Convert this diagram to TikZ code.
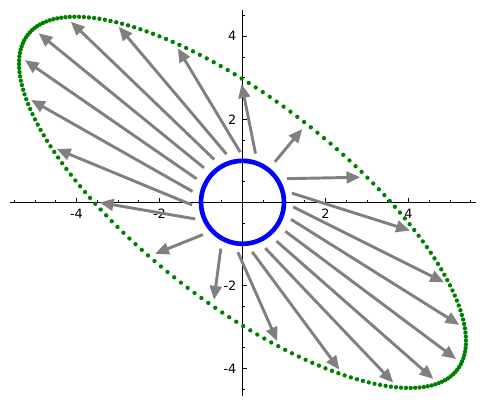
\documentclass[tikz,border=0pt]{standalone}
\usepackage{fontspec}
\setmainfont{DejaVu Sans}
\usetikzlibrary{arrows.meta}
\definecolor{cVec}{RGB}{128,128,128}
\definecolor{cImg}{RGB}{0,128,0}
\definecolor{cUnit}{RGB}{0,0,255}
\tikzset{
	axisline/.style={line width=0.6pt, black},
	tickline/.style={line width=0.5pt, black},
	ticklbl/.style ={inner sep=0pt, font=\fontsize{8.8}{10}\selectfont},
	vecarrow/.style={line width=2pt, cVec, -{Triangle[length=9.5pt, width=8pt]}, shorten <=7pt, shorten >=4.5pt},
	imgdot/.style  ={fill=cImg},
	unitcirc/.style={draw=cUnit, line width=3.2pt},
}
\begin{document}
\begin{tikzpicture}
	\useasboundingbox (-5.843,-4.908) rectangle (5.819,4.875);
	% axes
	\draw[axisline] (-5.6,0) -- (5.63,0);
	\draw[axisline] (0,-4.67) -- (0,4.63);
	\foreach \x in {-5.5,-5,...,5.5}
		\draw[tickline] (\x,0) -- (\x,0.06);
	\foreach \y in {-4.5,-4,...,4.5}
		\draw[tickline] (0,\y) -- (0.06,\y);
	\foreach \x in {-4,-2,2,4}{
		\draw[tickline] (\x,0) -- (\x,0.11);
		\node[ticklbl, anchor=north] (xl\x) at (\x,-0.155) {\x};
	}
	\foreach \y in {-4,-2,2,4}{
		\draw[tickline] (0,\y) -- (0.11,\y);
		\node[ticklbl, anchor=east] (yl\y) at (-0.14,\y) {\y};
	}
	% image of the unit circle under A = [5 -2; -2 4]
	\foreach \k in {0,...,199}{
		\pgfmathsetmacro\ang{\k*1.8}
		\fill[imgdot] ({5*cos(\ang)-2*sin(\ang)},{-2*cos(\ang)+4*sin(\ang)}) circle (1.5pt);
	}
	% v -> Av
	\foreach \k in {0,...,20}{
		\pgfmathsetmacro\ang{deg(0.3*\k)}
		\coordinate (v\k) at (\ang:1);
		\coordinate (w\k) at ({5*cos(\ang)-2*sin(\ang)},{-2*cos(\ang)+4*sin(\ang)});
		\draw[vecarrow] (v\k) -- (w\k);
	}
	\draw[unitcirc] (0,0) circle (1);
\end{tikzpicture}
\end{document}
